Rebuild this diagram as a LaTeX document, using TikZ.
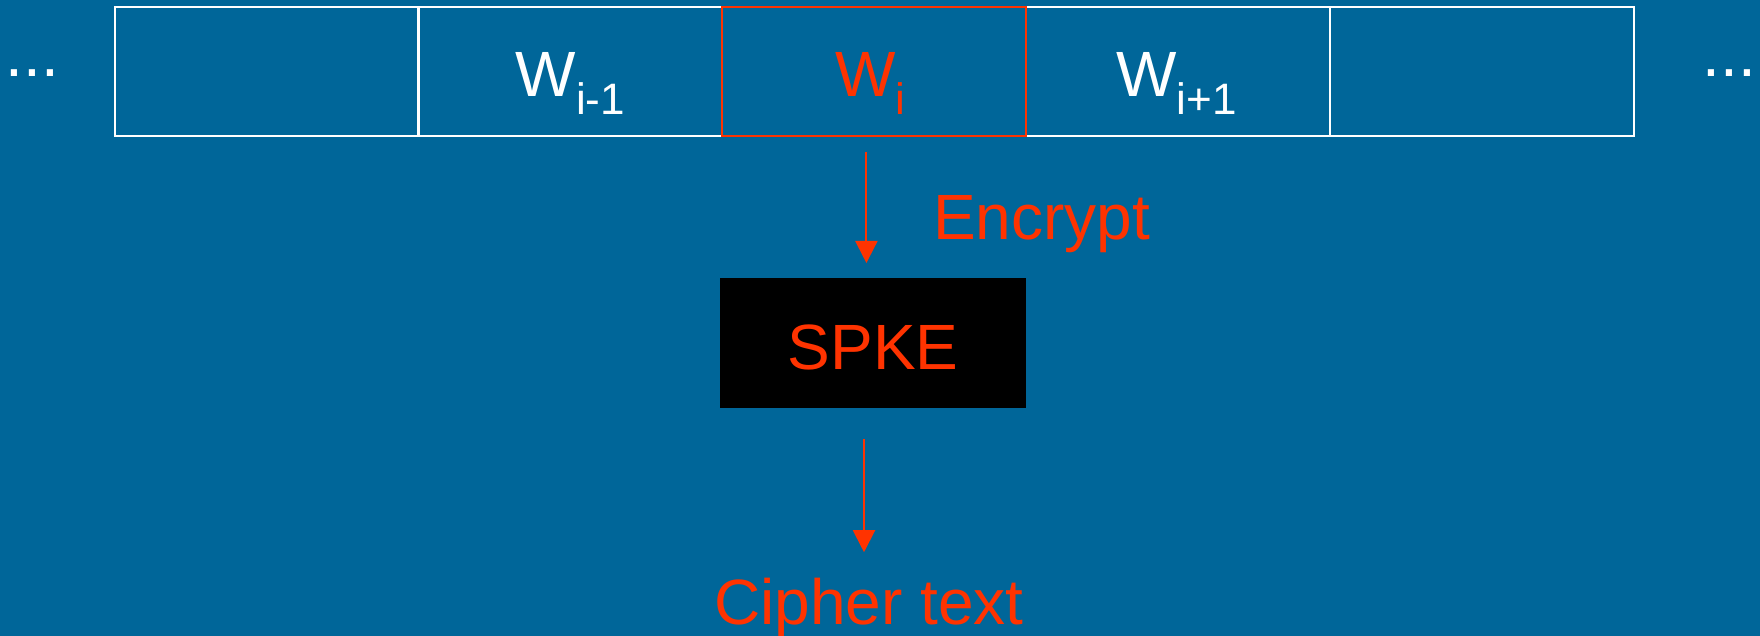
\documentclass[tikz,border=0pt]{standalone}
\usepackage{fontspec}
\setmainfont{Liberation Sans}
\usetikzlibrary{arrows.meta}
\definecolor{slide}{RGB}{0,102,153}
\definecolor{hot}{RGB}{255,51,0}
\begin{document}
\begin{tikzpicture}[x=0.5pt,y=-0.5pt,
  cell/.style={draw=white,line width=1pt,minimum width=152pt,minimum height=64.5pt,inner sep=0pt,outer sep=0pt},
  big/.style={font=\fontsize{32}{38}\selectfont,inner sep=0pt,outer sep=0pt},
  flow/.style={draw=hot,line width=1pt,-{Triangle[width=11pt,length=11pt]}}]
% background
\fill[slide] (0,0) rectangle (1760,636);
\useasboundingbox (0,0) rectangle (1760,636);

% the row of words
\node[cell] (c1) at (266.5,71.25) {};
\node[cell] (c2) at (570.4,71.25) {};
\node[cell] (c4) at (1178.4,71.25) {};
\node[cell] (c5) at (1482.3,71.25) {};
\node[cell,draw=hot] (c3) at (874.4,71.25) {};

\newcommand{\subtxt}[1]{\raisebox{-9pt}{\fontsize{22}{24}\selectfont #1}}
\node[big,text=white,anchor=base] (w1) at ([yshift=-12.8pt]c2.center) {W\subtxt{i-1}};
\node[big,text=hot,anchor=base] (w2) at ([xshift=-2pt,yshift=-12.8pt]c3.center) {W\subtxt{i}};
\node[big,text=white,anchor=base] (w3) at ([xshift=-1pt,yshift=-12.8pt]c4.center) {W\subtxt{i+1}};

\node[big,text=white,anchor=base] (ldots) at (32.5,77) {...};
\node[big,text=white,anchor=base] (rdots) at (1729.5,77) {...};

% encryption box
\node[big,fill=black,text=hot,text height=26.9pt,text depth=0pt,minimum width=153pt,minimum height=65pt] (spke) at (873,343) {SPKE};
\node[big,text=hot,anchor=base west] (enc) at (933,240) {Encrypt};
\node[big,text=hot,anchor=base] (cipher) at (869,624) {Cipher text};

% flow arrows
\draw[flow,shorten <=8.1pt,shorten >=7.5pt] ([xshift=-4pt]c3.south) -- ([xshift=-4pt]c3.south |- spke.north);
\draw[flow,shorten <=15.5pt,shorten >=12.7pt] ([xshift=-4.5pt]spke.south) -- ([xshift=-4.5pt]spke.south |- cipher.north);
\end{tikzpicture}
\end{document}
